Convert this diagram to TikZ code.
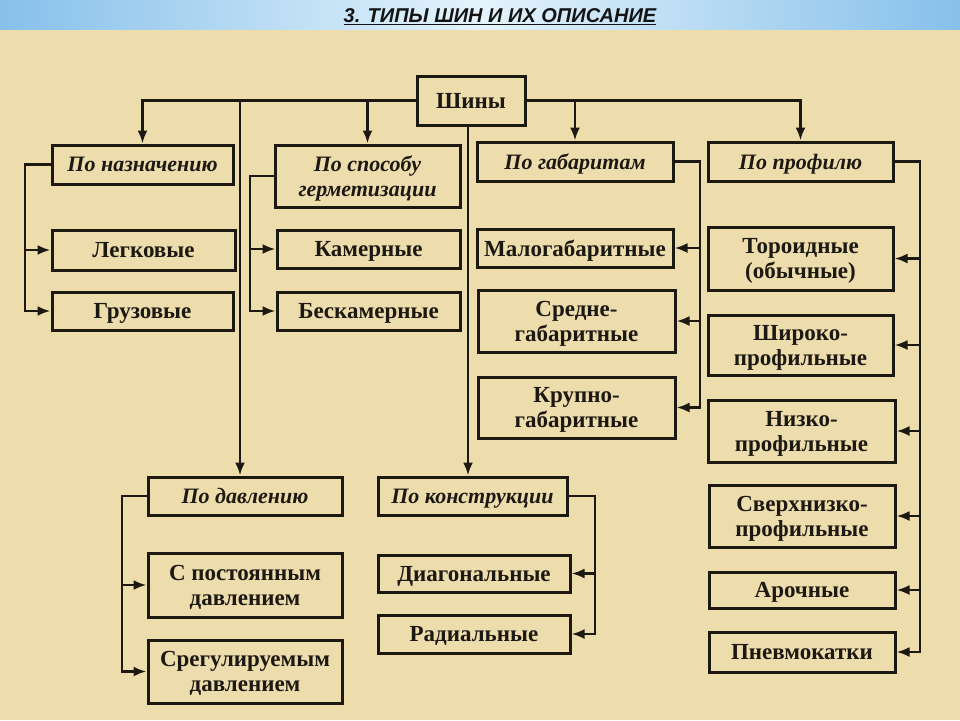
\documentclass[tikz,border=0pt]{standalone}
\usepackage{fontspec}
\setmainfont{Liberation Serif}
\newfontfamily\titlefont{Liberation Sans}
\usetikzlibrary{arrows.meta}
\definecolor{paper}{HTML}{EDDCAC}
\definecolor{ink}{HTML}{1C1812}
\definecolor{skyA}{HTML}{86C0EA}
\definecolor{skyB}{HTML}{E4F3FC}
\definecolor{titleink}{HTML}{141414}
\begin{document}
\begin{tikzpicture}[x=1pt,y=-1pt,
  box/.style={draw=ink, line width=3pt, inner sep=0pt, align=center, text=ink, text depth=0pt,
              font=\fontsize{23}{25}\selectfont\bfseries},
  cat/.style={box, font=\fontsize{22}{25}\selectfont\bfseries\itshape},
  wh/.style 2 args={minimum width=#1pt, minimum height=#2pt},
  arr/.style={draw=ink, line width=2.6pt, -{Latex[length=13pt,width=10pt]}},
]
\useasboundingbox (0,0) rectangle (960,720);
\fill[paper] (0,0) rectangle (960,720);
\shade[left color=skyA, right color=skyA, middle color=skyB] (0,0) rectangle (960,29);

\node[font=\titlefont\fontsize{20}{22}\selectfont\bfseries\itshape, text=titleink] (title) at (500,17)
  {\underline{3. ТИПЫ ШИН И ИХ ОПИСАНИЕ}};

% root
\node[box, wh={108}{49}] (shiny) at (471,100.5) {Шины};

% categories
\node[cat, wh={181}{39}] (naz)   at (142.5,164.5) {По назначению};
\node[cat, wh={185}{62}] (germ)  at (367.5,176) {По способу\\герметизации};
\node[cat, wh={196}{39}] (gab)   at (575,161.5) {По габаритам};
\node[cat, wh={185}{39}] (prof)  at (800.5,161.5) {По профилю};
\node[cat, wh={194}{38}] (davl)  at (245,496) {По давлению};
\node[cat, wh={189}{38}] (konst) at (472.5,496) {По конструкции};

% leaves
\node[box, wh={183}{40}] (legk)   at (143.5,250) {Легковые};
\node[box, wh={181}{38}] (gruz)   at (142.5,311) {Грузовые};
\node[box, wh={183}{38}] (kam)    at (368.5,249) {Камерные};
\node[box, wh={183}{38}] (beskam) at (368.5,311) {Бескамерные};
\node[box, wh={196}{38}] (malo)   at (575,248) {Малогабаритные};
\node[box, wh={197}{62}] (sred)   at (576.5,321) {Средне-\\габаритные};
\node[box, wh={197}{61}] (krup)   at (576.5,407.5) {Крупно-\\габаритные};
\node[box, wh={185}{63}] (tor)    at (800.5,258.5) {Тороидные\\(обычные)};
\node[box, wh={185}{60}] (shir)   at (800.5,345) {Широко-\\профильные};
\node[box, wh={187}{62}] (nizk)   at (801.5,431) {Низко-\\профильные};
\node[box, wh={186}{62}] (sverh)  at (802,516) {Сверхнизко-\\профильные};
\node[box, wh={186}{36}] (arch)   at (802,590) {Арочные};
\node[box, wh={186}{40}] (pnev)   at (802,652) {Пневмокатки};
\node[box, wh={194}{64}] (post)   at (245,585) {С постоянным\\давлением};
\node[box, wh={194}{63}] (reg)    at (245,671.5) {Срегулируемым\\давлением};
\node[box, wh={192}{37}] (diag)   at (474,573.5) {Диагональные};
\node[box, wh={192}{38}] (rad)    at (474,634) {Радиальные};

% trunk from root
\coordinate (jd) at (240,100.5);
\coordinate (jk) at (468,0);
\draw[arr] (shiny.west) -| (naz.north);
\draw[arr] (shiny.west) -| (germ.north);
\draw[arr] (jd) -- (jd |- davl.north);
\draw[arr] (shiny.south -| jk) -- (konst.north -| jk);
\draw[arr] (shiny.east) -| (gab.north);
\draw[arr] (shiny.east) -| (prof.north);

% brackets
\coordinate (bn) at (25,0);
\draw[arr] (naz.west) -| (bn |- gruz.west) -- (gruz.west);
\draw[arr] (bn |- legk.west) -- (legk.west);

\coordinate (bg) at (250,0);
\draw[arr] (germ.west) -| (bg |- beskam.west) -- (beskam.west);
\draw[arr] (bg |- kam.west) -- (kam.west);

\coordinate (bd) at (122,0);
\draw[arr] (davl.west) -| (bd |- reg.west) -- (reg.west);
\draw[arr] (bd |- post.west) -- (post.west);

\coordinate (bb) at (700,0);
\draw[arr] (gab.east) -| (bb |- krup.east) -- (krup.east);
\draw[arr] (bb |- malo.east) -- (malo.east);
\draw[arr] (bb |- sred.east) -- (sred.east);

\coordinate (bp) at (920,0);
\draw[arr] (prof.east) -| (bp |- pnev.east) -- (pnev.east);
\foreach \n in {tor,shir,nizk,sverh,arch} \draw[arr] (bp |- \n.east) -- (\n.east);

\coordinate (bk) at (595,0);
\draw[arr] (konst.east) -| (bk |- rad.east) -- (rad.east);
\draw[arr] (bk |- diag.east) -- (diag.east);
\end{tikzpicture}
\end{document}
